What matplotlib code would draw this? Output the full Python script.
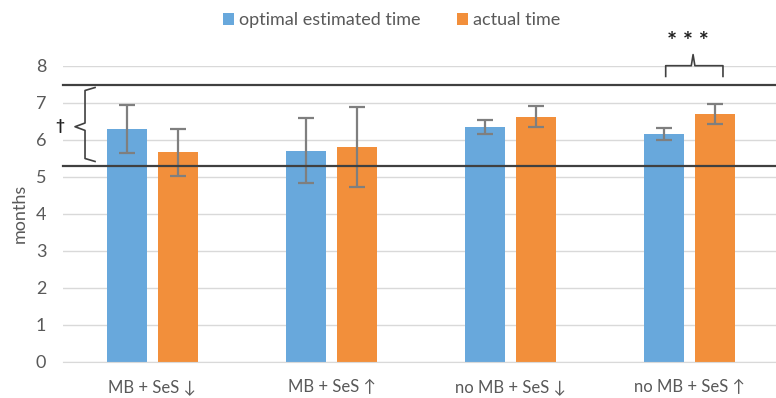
import matplotlib
matplotlib.use("Agg")
import matplotlib.pyplot as plt
import numpy as np

plt.rcParams['font.family'] = ['Lato', 'DejaVu Sans']

groups = ['MB + SeS ↓', 'MB + SeS ↑', 'no MB + SeS ↓', 'no MB + SeS ↑']
optimal = [6.29, 5.70, 6.34, 6.15]
optimal_err = [0.64, 0.88, 0.20, 0.16]
actual = [5.66, 5.79, 6.62, 6.69]
actual_err = [0.64, 1.08, 0.29, 0.27]
ref_lines = [7.49, 5.30]

blue = '#68a8dc'
orange = '#f28f3b'
errc = '#7f7f7f'

fig = plt.figure(figsize=(7.76, 3.98), dpi=100)
ax = fig.add_axes([63/776, 1-361.5/398, 716/776, (361.5-65.7)/398])

x = np.arange(len(groups))
w = 0.225
off = 0.142
ekw = dict(ecolor=errc, elinewidth=1.6, capsize=6, capthick=1.6)
ax.bar(x - off, optimal, w, yerr=optimal_err, color=blue, label='optimal estimated time',
       error_kw=ekw, zorder=2)
ax.bar(x + off, actual, w, yerr=actual_err, color=orange, label='actual time',
       error_kw=ekw, zorder=2)

ax.set_xlim(-0.5, 3.5)
ax.set_ylim(0, 8)
ax.set_yticks(range(0, 9))
ax.set_xticks(x)
ax.set_xticklabels(groups)
ax.grid(axis='y', color='#d9d9d9', lw=1, zorder=0)
ax.set_axisbelow(True)
for s in ['left', 'right', 'top']:
    ax.spines[s].set_visible(False)
ax.spines['bottom'].set_color('#d9d9d9')
ax.tick_params(axis='both', length=0, colors='#595959')
ax.tick_params(axis='y', labelsize=13, pad=12)
ax.tick_params(axis='x', labelsize=12, pad=13)
ax.set_ylabel('months', fontsize=13, color='#595959', labelpad=6)

# reference lines
for v in ref_lines:
    ax.axhline(v, color='#404040', lw=1.6, zorder=3, clip_on=False)

# left brace
bx, tip, hook = -0.377, -0.433, -0.321
yt, yb, ym = 7.41, 5.41, 6.35
ax.plot([hook, bx, bx, tip, bx, bx, hook],
        [yt, yt - 0.08, ym + 0.1, ym, ym - 0.1, yb + 0.08, yb],
        color='#404040', lw=1.2, clip_on=False, zorder=4)
ax.text(-0.517, 6.38, '†', fontsize=11, fontweight='bold', ha='center', va='center',
        color='#202020')

# significance brace over last group
x0, x1, xc = 2.867, 3.187, 3.02
ax.plot([x0, x0, xc - 0.01, xc, xc + 0.01, x1, x1],
        [7.71, 8.0, 8.0, 8.3, 8.0, 8.0, 7.71],
        color='#404040', lw=1.2, clip_on=False, zorder=4)
ax.text(2.99, 8.62, '* * *', fontsize=17, fontweight='bold', ha='center', va='center',
        color='#202020')

fig.legend(loc='upper center', bbox_to_anchor=(0.505, 1.01), ncol=2, frameon=False,
           fontsize=13, handlelength=0.6, handleheight=0.6, handletextpad=0.3,
           columnspacing=2.0, labelcolor='#595959')

fig.savefig('out.png', dpi=100)
